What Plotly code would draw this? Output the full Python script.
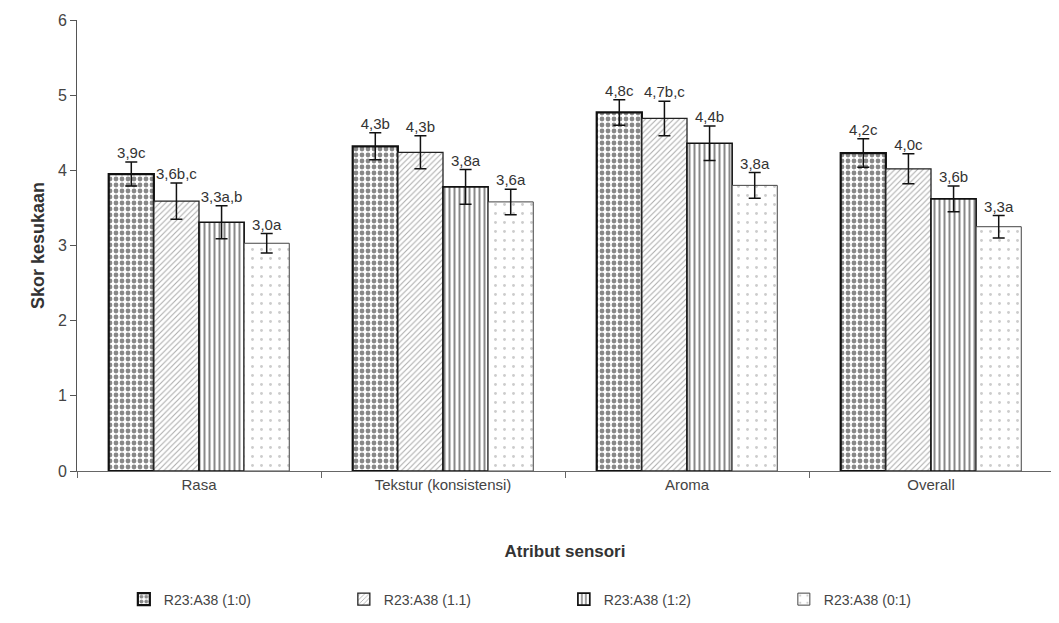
import plotly.graph_objects as go

categories = ["Rasa", "Tekstur (konsistensi)", "Aroma", "Overall"]
series_names = ["R23:A38 (1:0)", "R23:A38 (1.1)", "R23:A38 (1:2)", "R23:A38 (0:1)"]
values = [
    [3.95, 4.32, 4.77, 4.23],
    [3.59, 4.24, 4.69, 4.02],
    [3.31, 3.78, 4.36, 3.62],
    [3.03, 3.58, 3.80, 3.25],
]
errors = [
    [0.16, 0.18, 0.17, 0.19],
    [0.24, 0.22, 0.23, 0.20],
    [0.22, 0.23, 0.23, 0.17],
    [0.13, 0.17, 0.17, 0.15],
]
labels = [
    ["3,9c", "4,3b", "4,8c", "4,2c"],
    ["3,6b,c", "4,3b", "4,7b,c", "4,0c"],
    ["3,3a,b", "3,8a", "4,4b", "3,6b"],
    ["3,0a", "3,6a", "3,8a", "3,3a"],
]
y_ticks = [0, 1, 2, 3, 4, 5, 6]

patterns = [
    dict(shape=".", fgcolor="#111111", bgcolor="white", size=6, solidity=0.5),
    dict(shape="/", fgcolor="#555555", bgcolor="white", size=4, solidity=0.25),
    dict(shape="|", fgcolor="#111111", bgcolor="white", size=5, solidity=0.4),
    dict(shape=".", fgcolor="#999999", bgcolor="white", size=9, solidity=0.08),
]
outline_w = [2.2, 1.3, 1.6, 1.0]
outline_c = ["#111111", "#222222", "#111111", "#444444"]

fig = go.Figure()
for i in range(4):
    fig.add_trace(go.Bar(
        x=categories, y=values[i], name=series_names[i],
        offsetgroup=str(i),
        marker=dict(color="white", pattern=patterns[i],
                    line=dict(color=outline_c[i], width=outline_w[i])),
        error_y=dict(type="data", array=errors[i], color="#111111",
                     thickness=1.5, width=6),
    ))
for i in range(4):
    fig.add_trace(go.Scatter(
        x=categories, y=[v + e for v, e in zip(values[i], errors[i])],
        offsetgroup=str(i), mode="text", text=labels[i],
        textposition="top center",
        textfont=dict(family="Liberation Sans, Arial", size=15, color="#333333"),
        showlegend=False, hoverinfo="skip",
    ))

fig.update_layout(
    width=1051, height=615,
    margin=dict(l=69, r=6, t=12, b=152),
    plot_bgcolor="white", paper_bgcolor="white",
    barmode="group", bargap=0.26, bargroupgap=0.0,
    scattermode="group", scattergap=0.26,
    font=dict(family="Liberation Sans, Arial", size=14, color="#444444"),
    legend=dict(orientation="h", x=0.048, xanchor="left", y=-0.285, yanchor="middle",
                entrywidth=175, entrywidthmode="pixels", itemwidth=30,
                font=dict(size=14, color="#444444")),
    showlegend=True,
)
fig.update_yaxes(range=[0, 6], tickvals=y_ticks, showgrid=False, zeroline=False,
                 automargin=False,
                 showline=True, linecolor="#555555", linewidth=1,
                 ticks="outside", ticklen=6, tickcolor="#555555",
                 tickfont=dict(size=16, color="#444444"),
                 title=dict(text="<b>Skor kesukaan</b>", font=dict(size=18, color="#333333"),
                            standoff=8))
fig.update_xaxes(showgrid=False, showline=True, linecolor="#666666", linewidth=1,
                 automargin=False,
                 ticks="outside", tickson="boundaries", ticklen=6, tickcolor="#666666",
                 tickfont=dict(size=15, color="#444444"),
                 title=dict(text="<b>Atribut sensori</b>", font=dict(size=17, color="#333333"),
                            standoff=53))

fig.write_html("out.html")
